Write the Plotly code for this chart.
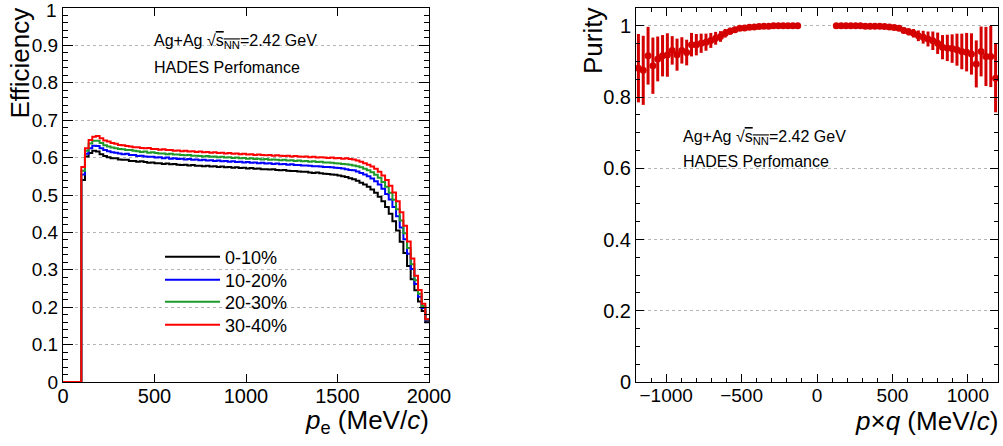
import plotly.graph_objects as go

# ── data ─────────────────────────────────────────────────────────────────────
BIN_EDGES = list(range(0, 2001, 20))  # p_e bins (MeV/c), 20 MeV wide

EFF_0_10 = [0, 0, 0, 0, 0,
    0.540, 0.603, 0.612, 0.618, 0.616, 0.609, 0.604, 0.601, 0.598, 0.598,
    0.595, 0.594, 0.594, 0.591, 0.591, 0.589, 0.590, 0.588, 0.586, 0.587,
    0.585, 0.585, 0.583, 0.584, 0.582, 0.583, 0.581, 0.580, 0.581, 0.579,
    0.580, 0.578, 0.578, 0.577, 0.578, 0.576, 0.577, 0.575, 0.576, 0.574,
    0.575, 0.573, 0.574, 0.572, 0.573, 0.571, 0.572, 0.570, 0.571, 0.569,
    0.569, 0.568, 0.569, 0.567, 0.566, 0.567, 0.565, 0.564, 0.564, 0.563,
    0.562, 0.562, 0.560, 0.559, 0.560, 0.558, 0.557, 0.556, 0.555, 0.554,
    0.552, 0.550, 0.548, 0.545, 0.542,
    0.538, 0.533, 0.528, 0.522, 0.515, 0.506, 0.495, 0.483, 0.468, 0.450,
    0.430, 0.405, 0.375, 0.345, 0.310, 0.275, 0.245, 0.215, 0.190, 0.160]

EFF_10_20 = [0, 0, 0, 0, 0,
    0.555, 0.610, 0.625, 0.632, 0.631, 0.625, 0.620, 0.617, 0.614, 0.613,
    0.611, 0.609, 0.610, 0.607, 0.607, 0.604, 0.605, 0.603, 0.602, 0.602,
    0.600, 0.601, 0.598, 0.600, 0.597, 0.598, 0.596, 0.597, 0.595, 0.596,
    0.594, 0.595, 0.593, 0.594, 0.592, 0.593, 0.591, 0.592, 0.590, 0.591,
    0.589, 0.590, 0.588, 0.589, 0.587, 0.588, 0.586, 0.587, 0.585, 0.586,
    0.584, 0.585, 0.583, 0.584, 0.582, 0.583, 0.581, 0.582, 0.580, 0.580,
    0.579, 0.579, 0.578, 0.577, 0.577, 0.576, 0.575, 0.575, 0.574, 0.573,
    0.572, 0.571, 0.569, 0.567, 0.566,
    0.563, 0.559, 0.555, 0.550, 0.544, 0.537, 0.528, 0.517, 0.503, 0.488,
    0.468, 0.443, 0.413, 0.382, 0.343, 0.302, 0.262, 0.228, 0.198, 0.165]

EFF_20_30 = [0, 0, 0, 0, 0,
    0.565, 0.618, 0.638, 0.645, 0.645, 0.639, 0.633, 0.630, 0.627, 0.625,
    0.623, 0.622, 0.620, 0.620, 0.618, 0.617, 0.615, 0.616, 0.613, 0.614,
    0.612, 0.611, 0.611, 0.609, 0.610, 0.608, 0.608, 0.607, 0.606, 0.607,
    0.605, 0.605, 0.604, 0.603, 0.604, 0.602, 0.603, 0.601, 0.602, 0.600,
    0.601, 0.599, 0.600, 0.598, 0.599, 0.597, 0.598, 0.596, 0.597, 0.595,
    0.596, 0.594, 0.595, 0.594, 0.593, 0.594, 0.592, 0.593, 0.591, 0.592,
    0.590, 0.591, 0.589, 0.590, 0.588, 0.589, 0.587, 0.587, 0.586, 0.585,
    0.584, 0.583, 0.582, 0.581, 0.579,
    0.577, 0.574, 0.570, 0.566, 0.561, 0.554, 0.546, 0.535, 0.522, 0.506,
    0.487, 0.462, 0.432, 0.398, 0.358, 0.315, 0.272, 0.236, 0.203, 0.167]

EFF_30_40 = [0, 0, 0, 0, 0,
    0.575, 0.625, 0.647, 0.656, 0.658, 0.652, 0.646, 0.643, 0.639, 0.637,
    0.634, 0.633, 0.631, 0.630, 0.628, 0.628, 0.626, 0.625, 0.626, 0.623,
    0.623, 0.621, 0.622, 0.620, 0.620, 0.618, 0.619, 0.617, 0.618, 0.616,
    0.617, 0.615, 0.616, 0.614, 0.615, 0.613, 0.614, 0.612, 0.613, 0.611,
    0.612, 0.610, 0.611, 0.609, 0.610, 0.608, 0.609, 0.607, 0.608, 0.607,
    0.606, 0.607, 0.605, 0.606, 0.605, 0.604, 0.605, 0.603, 0.604, 0.603,
    0.602, 0.603, 0.601, 0.602, 0.600, 0.601, 0.600, 0.599, 0.600, 0.598,
    0.599, 0.597, 0.598, 0.596, 0.595,
    0.592, 0.589, 0.585, 0.581, 0.576, 0.570, 0.562, 0.552, 0.540, 0.525,
    0.507, 0.483, 0.454, 0.418, 0.376, 0.330, 0.284, 0.246, 0.209, 0.168]

CENTRALITY = ["0-10%", "10-20%", "20-30%", "30-40%"]
CENT_COLORS = ["#000000", "#0000ff", "#1f9a2a", "#ff0000"]

EFF_TICKS = [0, 0.1, 0.2, 0.3, 0.4, 0.5, 0.6, 0.7, 0.8, 0.9, 1]
EFF_TICK_TEXT = ["0", "0.1", "0.2", "0.3", "0.4", "0.5", "0.6", "0.7", "0.8", "0.9", ""]

# purity vs p*q, 32 MeV bins, empty around zero
PQ_NEG = list(range(-1184, -127, 32))
PUR_NEG = [0.881, 0.875, 0.916, 0.888, 0.907, 0.916, 0.918, 0.931, 0.919, 0.931,
           0.925, 0.947, 0.947, 0.951, 0.954, 0.959, 0.965, 0.970, 0.979, 0.985,
           0.989, 0.993, 0.994, 0.996, 0.997, 0.998, 0.999, 0.999, 1.0, 1.0,
           1.0, 1.0, 1.0, 1.0]
ERR_NEG = [0.096, 0.097, 0.081, 0.079, 0.063, 0.058, 0.061, 0.040, 0.045, 0.037,
           0.036, 0.033, 0.030, 0.027, 0.024, 0.021, 0.018, 0.015, 0.012, 0.010,
           0.008, 0.006, 0.004, 0.003, 0.003, 0.002, 0.002, 0.002, 0.002, 0.002,
           0.002, 0.002, 0.002, 0.002]

PQ_POS = list(range(128, 1185, 32))
PUR_POS = [1.0, 1.0, 1.0, 1.0, 1.0, 1.0, 0.999, 0.999, 0.999, 0.999, 0.998,
           0.997, 0.995, 0.993, 0.987, 0.983, 0.979, 0.972, 0.968, 0.963, 0.958,
           0.951, 0.940, 0.938, 0.936, 0.933, 0.928, 0.926, 0.921, 0.893, 0.928,
           0.914, 0.914, 0.853]
ERR_POS = [0.002, 0.002, 0.002, 0.002, 0.002, 0.002, 0.002, 0.002, 0.002, 0.002, 0.002,
           0.003, 0.004, 0.006, 0.008, 0.010, 0.012, 0.015, 0.018, 0.021, 0.026,
           0.030, 0.034, 0.037, 0.040, 0.045, 0.050, 0.054, 0.058, 0.066, 0.070,
           0.083, 0.086, 0.096]

PUR_COLOR = "#d40000"
FONT = "Liberation Sans, Arial, Helvetica, sans-serif"

# page body margin is zeroed in post_script, figure fills the window
W, H = 1003, 446


def px(x):
    return x / W


def py(y):
    return 1 - y / H


# ── figure ───────────────────────────────────────────────────────────────────
fig = go.Figure()

# one single-entry legend per centrality class, so the rows sit where ROOT put them
legend_rows = [257, 280, 302, 325]
legend_names = ["legend", "legend2", "legend3", "legend4"]

for name, color, vals, lg in zip(CENTRALITY, CENT_COLORS,
                                 [EFF_0_10, EFF_10_20, EFF_20_30, EFF_30_40],
                                 legend_names):
    fig.add_trace(go.Scatter(
        x=BIN_EDGES, y=vals + [vals[-1]], mode="lines", line_shape="hv",
        line=dict(color=color, width=2), name=name, legend=lg,
        xaxis="x", yaxis="y",
    ))

fig.add_trace(go.Scatter(
    x=PQ_NEG + PQ_POS, y=PUR_NEG + PUR_POS, mode="markers",
    marker=dict(size=7, color=PUR_COLOR),
    error_y=dict(type="data", array=ERR_NEG + ERR_POS, thickness=3, width=0,
                 color=PUR_COLOR),
    showlegend=False, xaxis="x2", yaxis="y2",
))

axis_common = dict(
    showline=True, linecolor="black", linewidth=1, mirror="allticks",
    ticks="inside", tickcolor="black", zeroline=False, automargin=False,
    ticklabeloverflow="allow",
)
grid = dict(showgrid=True, gridcolor="#b4b4b4", griddash="dot", gridwidth=1)

fig.update_layout(
    width=W, height=H,
    margin=dict(l=0, r=0, t=0, b=0),
    paper_bgcolor="white", plot_bgcolor="white",
    font=dict(family=FONT, color="black"),
    xaxis=dict(domain=[px(63), px(429)], range=[0, 2000], dtick=500,
               ticklen=8, showgrid=False, ticklabelstandoff=-4,
               tickfont=dict(size=20), anchor="y", **axis_common),
    yaxis=dict(domain=[py(382), py(8)], range=[0, 1], ticklen=10,
               tickvals=EFF_TICKS, ticktext=EFF_TICK_TEXT,
               minor=dict(dtick=0.02, ticks="inside", ticklen=5,
                          tickcolor="black", showgrid=False),
               tickfont=dict(size=19), anchor="x", **grid, **axis_common),
    xaxis2=dict(domain=[px(636), px(998)], range=[-1200, 1200], dtick=500,
                ticklen=8, showgrid=False, ticklabelstandoff=-4,
                minor=dict(dtick=100, ticks="inside", ticklen=4,
                           tickcolor="black", showgrid=False),
                tickfont=dict(size=19), anchor="y2", **axis_common),
    yaxis2=dict(domain=[py(382), py(8)], range=[0, 1.05], ticklen=8,
                tickvals=[0, 0.2, 0.4, 0.6, 0.8, 1],
                ticktext=["0", "0.2", "0.4", "0.6", "0.8", "1"],
                minor=dict(dtick=0.05, ticks="inside", ticklen=4,
                           tickcolor="black", showgrid=False),
                tickfont=dict(size=20), anchor="x2", **grid, **axis_common),
)

for lg, row in zip(legend_names, legend_rows):
    fig.update_layout({lg: dict(
        x=px(160), y=py(row), xanchor="left", yanchor="middle",
        bgcolor="rgba(0,0,0,0)", font=dict(size=18, family=FONT),
        itemwidth=55, borderwidth=0,
    )})

SQRT_S = "Ag+Ag √<span style='text-decoration:overline'>s<sub>NN</sub></span>=2.42 GeV"
notes = [
    # (text, x px, y px, size, anchor)
    (SQRT_S, 152, 41, 16, "left"),
    ("HADES Perfomance", 152, 67, 16, "left"),
    (SQRT_S, 681, 137, 16, "left"),
    ("HADES Perfomance", 681, 162, 16, "left"),
    ("<i>p</i><sub>e</sub> (MeV/<i>c</i>)", 431, 421, 26, "right"),
    ("<i>p</i>×<i>q</i> (MeV/<i>c</i>)", 1000, 421, 26, "right"),
    # top "1" of the efficiency axis, kept inside the page like ROOT does
    ("1", 59, 11, 19, "right"),
]
for text, x0, y0, size, anchor in notes:
    fig.add_annotation(
        text=text, xref="paper", yref="paper",
        x=px(x0), y=py(y0), xanchor=anchor, yanchor="middle",
        showarrow=False, font=dict(size=size, family=FONT),
    )

for text, x0 in [("Efficiency", 19), ("Purity", 593)]:
    fig.add_annotation(
        text=text, xref="paper", yref="paper",
        x=px(x0), y=py(6), xanchor="center", yanchor="top",
        textangle=-90, showarrow=False, font=dict(size=26, family=FONT),
    )

fig.write_html("out.html", config={"displayModeBar": False},
               post_script="document.body.style.margin = '0';")
